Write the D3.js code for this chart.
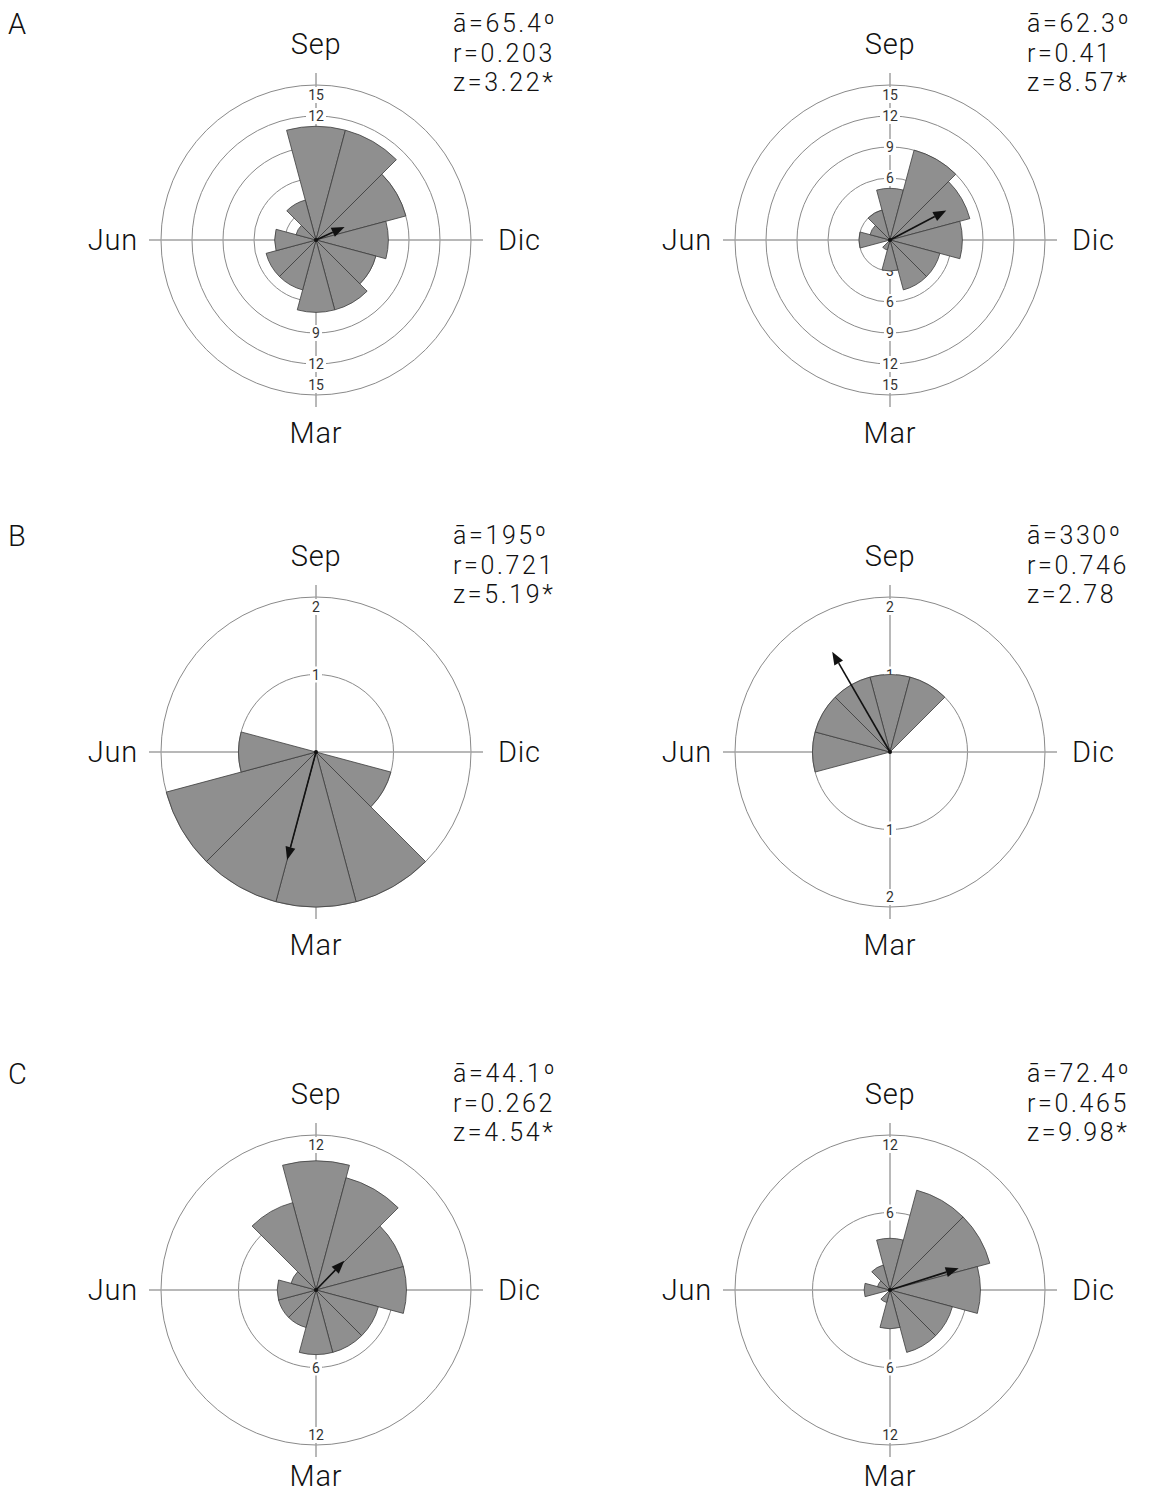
<!DOCTYPE html>
<html>
<head>
<meta charset="utf-8">
<script src="https://cdn.jsdelivr.net/npm/d3@7"></script>
<style>
  body { margin: 0; background: #fff; }
  svg text { font-family: Roboto, "Liberation Sans", Arial, sans-serif; }
</style>
</head>
<body>
<div id="chart"></div>
<script>
// months, clockwise from the top
var months = ["Sep", "Oct", "Nov", "Dic", "Ene", "Feb", "Mar", "Abr", "May", "Jun", "Jul", "Ago"];
var axisMonths = ["Sep", "Dic", "Mar", "Jun"];
var rowLetters = ["A", "B", "C"];

// counts per month (Sep..Ago) for each rose
var countsA1 = [11, 11, 9, 7, 6, 7, 7, 5, 5, 4, 2, 4];
var countsA2 = [5, 9, 8, 7, 5, 5, 3, 1, 0, 3, 2, 3];
var countsB1 = [0, 0, 0, 0, 1, 2, 2, 2, 2, 1, 0, 0];
var countsB2 = [1, 1, 0, 0, 0, 0, 0, 0, 0, 1, 1, 1];
var countsC1 = [10, 9, 7, 7, 5, 5, 5, 3, 3, 3, 2, 7];
var countsC2 = [4, 8, 8, 7, 5, 5, 3, 1, 0, 2, 1, 2];

// ring tick values per row
var ticksA = [3, 6, 9, 12, 15];
var ticksB = [1, 2];
var ticksC = [6, 12];

// circular statistics
var meanAngles = [65.4, 62.3, 195, 330, 44.1, 72.4];
var rValues = [0.203, 0.41, 0.721, 0.746, 0.262, 0.465];
var angleLabels = ["65.4", "62.3", "195", "330", "44.1", "72.4"];
var rLabels = ["0.203", "0.41", "0.721", "0.746", "0.262", "0.465"];
var zLabels = ["3.22*", "8.57*", "5.19*", "2.78", "4.54*", "9.98*"];

var width = 1165, height = 1495, R = 155;
var colX = [316, 890];
var rowY = [240, 752, 1290];

var svg = d3.select("#chart")
    .append("svg")
    .attr("width", width)
    .attr("height", height);

var panels = [
    {counts: countsA1, ticks: ticksA}, {counts: countsA2, ticks: ticksA},
    {counts: countsB1, ticks: ticksB}, {counts: countsB2, ticks: ticksB},
    {counts: countsC1, ticks: ticksC}, {counts: countsC2, ticks: ticksC}
];

rowLetters.forEach(function(l, i) {
    svg.append("text")
        .attr("x", 8)
        .attr("y", rowY[i] - 206)
        .attr("font-size", 29)
        .attr("font-weight", 300)
        .attr("fill", "#111")
        .text(l);
});

panels.forEach(function(p, k) {
    var cx = colX[k % 2], cy = rowY[Math.floor(k / 2)];
    var g = svg.append("g").attr("transform", "translate(" + cx + "," + cy + ")");
    var maxTick = p.ticks[p.ticks.length - 1];
    var y = d3.scaleLinear().domain([0, maxTick]).range([0, R]);
    var ang = d3.scaleLinear().domain([0, 12]).range([0, 2 * Math.PI]);

    // rings
    g.selectAll("circle.ring")
        .data(p.ticks)
        .enter()
        .append("circle")
        .attr("class", "ring")
        .attr("r", function(d) { return y(d); })
        .attr("fill", "none")
        .attr("stroke", "#8a8a8a")
        .attr("stroke-width", 1);

    // cross lines
    var L = R + 12;
    g.append("line").attr("x1", -L).attr("x2", L).attr("y1", 0).attr("y2", 0)
        .attr("stroke", "#a0a0a0").attr("stroke-width", 1.5);
    g.append("line").attr("y1", -L).attr("y2", L).attr("x1", 0).attr("x2", 0)
        .attr("stroke", "#a0a0a0").attr("stroke-width", 1.5);

    // tick labels top and bottom (outer one pulled inside)
    var tickPos = [];
    p.ticks.forEach(function(t) {
        var rr = y(t) - (t === maxTick ? 10 : 0);
        tickPos.push({t: t, y: -rr});
        tickPos.push({t: t, y: rr});
    });
    var tl = g.selectAll("g.tick")
        .data(tickPos)
        .enter()
        .append("g")
        .attr("class", "tick")
        .attr("transform", function(d) { return "translate(0," + d.y + ")"; });
    tl.append("rect")
        .attr("x", function(d) { return d.t >= 10 ? -10 : -6; })
        .attr("width", function(d) { return d.t >= 10 ? 20 : 12; })
        .attr("y", -8)
        .attr("height", 16)
        .attr("fill", "#fff");
    tl.append("text")
        .attr("text-anchor", "middle")
        .attr("dy", "0.36em")
        .attr("font-size", 14)
        .attr("fill", "#333")
        .text(function(d) { return d.t; });

    // sectors, one per month, centred on their direction
    var arc = d3.arc()
        .innerRadius(0)
        .outerRadius(function(d) { return y(d.v); })
        .startAngle(function(d) { return ang(d.i - 0.5); })
        .endAngle(function(d) { return ang(d.i + 0.5); });
    var data = p.counts.map(function(v, i) { return {v: v, i: i, m: months[i]}; })
        .filter(function(d) { return d.v > 0; });
    g.selectAll("path.sector")
        .data(data)
        .enter()
        .append("path")
        .attr("class", "sector")
        .attr("d", arc)
        .attr("fill", "#8f8f8f")
        .attr("stroke", "#3c3c3c")
        .attr("stroke-width", 0.8);

    // mean vector arrow, length r of the outer ring
    var a = meanAngles[k] * Math.PI / 180;
    var len = d3.scaleLinear().domain([0, 1]).range([0, R])(rValues[k]);
    var ux = Math.sin(a), uy = -Math.cos(a);
    var head = 13, hw = 5;
    var bx = ux * (len - head), by = uy * (len - head);
    g.append("line")
        .attr("x1", 0).attr("y1", 0)
        .attr("x2", bx).attr("y2", by)
        .attr("stroke", "#111").attr("stroke-width", 1.6);
    g.append("path")
        .attr("d", "M" + (ux * len) + "," + (uy * len) +
            "L" + (bx - uy * hw) + "," + (by + ux * hw) +
            "L" + (bx + uy * hw) + "," + (by - ux * hw) + "Z")
        .attr("fill", "#111");
    g.append("circle").attr("r", 2).attr("fill", "#111");

    // month labels
    var ml = [
        {t: axisMonths[0], x: 0, y: -186, a: "middle"},
        {t: axisMonths[1], x: 182, y: 10, a: "start"},
        {t: axisMonths[2], x: 0, y: Math.min(203, height - 9 - cy), a: "middle"},
        {t: axisMonths[3], x: -178, y: 10, a: "end"}
    ];
    g.selectAll("text.month")
        .data(ml)
        .enter()
        .append("text")
        .attr("class", "month")
        .attr("x", function(d) { return d.x; })
        .attr("y", function(d) { return d.y; })
        .attr("text-anchor", function(d) { return d.a; })
        .attr("font-size", 29)
        .attr("font-weight", 300)
        .attr("letter-spacing", 0.8)
        .attr("fill", "#111")
        .text(function(d) { return d.t; });

    // stats lines
    var st = ["\u0101=" + angleLabels[k] + "\u00ba", "r=" + rLabels[k], "z=" + zLabels[k]];
    g.selectAll("text.stat")
        .data(st)
        .enter()
        .append("text")
        .attr("class", "stat")
        .attr("x", 137)
        .attr("y", function(d, i) { return -208 + i * 29.5; })
        .attr("font-size", 25)
        .attr("font-weight", 300)
        .attr("letter-spacing", 2.6)
        .attr("fill", "#111")
        .text(function(d) { return d; });
});
</script>
</body>
</html>
